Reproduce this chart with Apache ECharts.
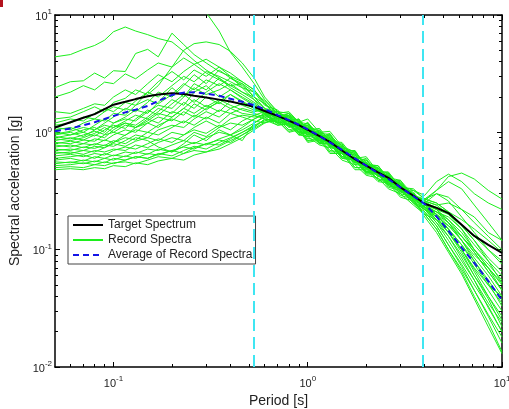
<!DOCTYPE html>
<html><head><meta charset="utf-8">
<script src="https://cdn.jsdelivr.net/npm/echarts@6/dist/echarts.min.js"></script>
<style>html,body{margin:0;padding:0;background:#fff}#c{width:509px;height:409px}</style>
</head><body><div id="c"></div>
<script>
const periods = [0.05,0.06,0.07,0.08,0.09,0.1, 0.115,0.13,0.15,0.17,0.2,0.23,0.26, 0.3,0.35,0.4,0.46,0.53, 0.6,0.7,0.8,0.9,1.0, 1.15,1.3,1.5,1.75,2.0, 2.3,2.6,3.0,3.5,4.0, 4.6,5.3,6.2,7.2,8.5,10];
const targetSpectrum = [1.10,1.22,1.33,1.43,1.58,1.72, 1.82,1.92,2.03,2.10,2.15,2.12,2.05, 1.98,1.90,1.83,1.74,1.65, 1.52,1.38,1.26,1.15,1.05, 0.93,0.83,0.70,0.59,0.52, 0.456,0.41,0.34,0.288,0.246, 0.227,0.205,0.163,0.131,0.11,0.094];
const averageSpectrum = [1.02,1.08,1.15,1.22,1.30,1.38, 1.48,1.56,1.68,1.85,2.08,2.18,2.20, 2.14,2.05,1.93,1.82,1.70, 1.58,1.40,1.27,1.16,1.06, 0.93,0.82,0.71,0.60,0.52, 0.45,0.40,0.34,0.285,0.245, 0.192,0.145,0.104,0.077,0.054,0.037];
const rec01 = [4.4,4.6,5.1,5.5,6.1,7.2, 7.9,7.3,6.8,6.3,5.9,4.9,4.1, 3.4,2.9,2.5,2.2,2.0, 1.75,1.45,1.5,1.22,1.3, 1.0,1.02,0.76,0.68,0.53, 0.52,0.4,0.37,0.29,0.26, 0.24,0.25,0.22,0.19,0.14,0.12];
const rec02 = [2.4,2.7,2.75,3.2,2.9,3.35, 3.3,4.7,5.1,4.4,7.0,5.6,4.6, 3.9,3.3,3.0,2.7,2.3, 1.8,1.3,1.45,1.05,1.2, 0.85,0.95,0.68,0.7,0.5, 0.5,0.38,0.39,0.27,0.26, 0.32,0.42,0.45,0.4,0.32,0.27];
const rec03 = [2.0,2.2,2.5,2.3,2.68,2.6, 3.15,2.86,3.4,3.9,3.6,4.3,3.8, 3.2,2.8,2.5,2.6,2.2, 1.7,1.55,1.2,1.3,0.95, 1.05,0.78,0.8,0.56,0.6, 0.42,0.45,0.31,0.32,0.29, 0.38,0.44,0.38,0.3,0.25,0.22];
const rec04 = [1.5,1.45,1.6,1.75,1.7,2.0, 2.3,2.1,2.6,3.1,2.7,3.3,3.8, 4.2,3.6,3.0,2.4,1.9, 1.6,1.25,1.4,1.0,1.15, 0.82,0.9,0.62,0.66,0.46, 0.5,0.36,0.37,0.26,0.24, 0.2,0.16,0.12,0.09,0.07,0.052];
const rec05 = [1.3,1.35,1.5,1.65,1.5,1.8, 1.95,2.3,2.1,2.5,3.6,5.0,5.7, 5.9,5.6,4.9,3.9,2.9, 2.0,1.5,1.3,1.28,0.98, 1.02,0.75,0.74,0.55,0.55, 0.43,0.43,0.32,0.3,0.25, 0.22,0.18,0.14,0.1,0.075,0.055];
const rec06 = [1.2,1.3,1.25,1.45,1.6,1.5, 1.8,1.7,2.2,2.7,3.3,2.8,3.4, 3.0,3.6,3.2,2.7,2.3, 1.75,1.35,1.45,1.12,1.2, 0.9,0.95,0.66,0.68,0.5, 0.48,0.39,0.37,0.28,0.27, 0.25,0.21,0.16,0.12,0.085,0.065];
const rec07 = [1.1,1.05,1.2,1.3,1.25,1.45, 1.4,1.7,1.9,1.75,2.1,2.6,2.3, 2.8,2.5,2.9,2.6,2.0, 1.6,1.3,1.18,1.2,0.92, 0.95,0.76,0.72,0.55,0.54, 0.44,0.42,0.32,0.3,0.23, 0.2,0.15,0.11,0.075,0.05,0.035];
const rec08 = [1.05,1.1,1.0,1.15,1.3,1.2, 1.35,1.55,1.45,1.8,2.4,2.0,2.6, 2.3,2.9,2.4,2.1,1.8, 1.55,1.45,1.35,1.05,1.12, 0.86,0.9,0.65,0.64,0.49, 0.48,0.38,0.36,0.27,0.26, 0.24,0.2,0.15,0.1,0.07,0.045];
const rec09 = [1.0,0.95,1.05,1.1,1.0,1.2, 1.3,1.25,1.5,1.7,1.6,2.0,2.4, 2.1,2.3,2.6,2.2,1.9, 1.45,1.5,1.22,1.25,1.0, 0.98,0.8,0.76,0.57,0.56, 0.44,0.43,0.33,0.3,0.24, 0.19,0.14,0.1,0.07,0.05,0.04];
const rec10 = [0.95,1.0,0.92,1.05,1.15,1.1, 1.25,1.4,1.3,1.5,1.9,1.7,2.2, 2.5,2.0,2.3,2.0,1.75, 1.5,1.22,1.3,1.0,1.08, 0.84,0.86,0.62,0.61,0.46, 0.47,0.37,0.35,0.27,0.23, 0.21,0.18,0.13,0.095,0.065,0.045];
const rec11 = [0.92,0.88,0.95,1.02,0.96,1.1, 1.2,1.15,1.35,1.6,1.45,1.8,1.6, 2.0,1.75,2.1,1.85,1.6, 1.42,1.4,1.15,1.18,0.95, 0.96,0.77,0.73,0.55,0.55, 0.43,0.42,0.32,0.29,0.26, 0.22,0.17,0.12,0.085,0.06,0.04];
const rec12 = [0.9,0.95,1.0,0.93,1.05,1.15, 1.08,1.3,1.55,1.4,1.75,2.1,1.8, 2.2,2.6,2.3,1.95,1.7, 1.5,1.3,1.35,1.1,1.15, 0.88,0.9,0.66,0.64,0.48, 0.46,0.39,0.35,0.27,0.25, 0.3,0.26,0.19,0.14,0.1,0.075];
const rec13 = [0.88,0.85,0.9,0.98,1.1,1.0, 1.15,1.1,1.25,1.45,1.35,1.6,1.9, 1.65,1.9,1.7,1.55,1.45, 1.35,1.35,1.1,1.15,0.88, 0.93,0.74,0.7,0.53,0.52, 0.42,0.4,0.31,0.28,0.22, 0.17,0.12,0.08,0.055,0.035,0.024];
const rec14 = [0.85,0.9,0.86,0.95,0.9,1.05, 1.2,1.1,1.3,1.2,1.5,1.4,1.75, 1.55,1.85,2.1,1.8,1.6, 1.45,1.2,1.28,1.05,1.1, 0.85,0.85,0.66,0.6,0.49, 0.47,0.37,0.35,0.27,0.25, 0.2,0.15,0.1,0.065,0.04,0.027];
const rec15 = [0.82,0.8,0.86,0.84,0.95,1.0, 0.94,1.1,1.2,1.1,1.35,1.6,1.45, 1.7,1.5,1.85,1.7,1.55, 1.5,1.5,1.25,1.3,1.05, 1.08,0.84,0.82,0.6,0.62, 0.46,0.46,0.34,0.33,0.27, 0.25,0.21,0.16,0.12,0.08,0.052];
const rec16 = [0.8,0.84,0.8,0.88,0.85,0.95, 1.05,1.0,1.2,1.35,1.25,1.5,1.35, 1.6,1.8,1.6,1.75,1.65, 1.45,1.2,1.2,0.98,1.0, 0.8,0.8,0.6,0.58,0.44, 0.44,0.34,0.32,0.25,0.22, 0.18,0.14,0.095,0.06,0.038,0.022];
const rec17 = [0.78,0.75,0.8,0.78,0.86,0.82, 0.95,1.05,1.0,1.15,1.3,1.2,1.4, 1.3,1.55,1.45,1.35,1.25, 1.2,1.3,1.05,1.1,0.85, 0.9,0.7,0.68,0.5,0.5, 0.4,0.39,0.3,0.28,0.24, 0.21,0.17,0.12,0.08,0.052,0.033];
const rec18 = [0.75,0.78,0.74,0.8,0.77,0.85, 0.8,0.9,0.85,0.75,0.68,0.8,0.95, 0.85,1.05,0.95,0.85,1.2, 1.35,1.15,1.2,0.95,1.02, 0.8,0.82,0.6,0.6,0.45, 0.46,0.35,0.33,0.25,0.21, 0.16,0.11,0.075,0.05,0.033,0.02];
const rec19 = [0.72,0.7,0.75,0.73,0.78,0.76, 0.85,0.95,0.9,1.05,1.15,1.1,1.3, 1.5,1.35,1.6,1.45,1.4, 1.3,1.25,1.0,1.05,0.82, 0.86,0.66,0.66,0.48,0.48, 0.38,0.37,0.28,0.26,0.2, 0.18,0.15,0.11,0.08,0.055,0.037];
const rec20 = [0.7,0.72,0.7,0.76,0.74,0.82, 0.9,0.86,1.0,0.95,1.1,1.25,1.15, 1.35,1.2,1.45,1.6,1.5, 1.55,1.4,1.35,1.12,1.15, 0.95,0.92,0.72,0.66,0.53, 0.49,0.42,0.36,0.3,0.24, 0.22,0.2,0.16,0.13,0.1,0.08];
const rec21 = [0.68,0.66,0.7,0.68,0.74,0.8, 0.76,0.84,0.9,0.85,1.0,0.95,1.1, 1.25,1.1,1.3,1.4,1.35, 1.4,1.2,1.25,0.98,1.05, 0.82,0.86,0.6,0.62,0.46, 0.47,0.36,0.35,0.26,0.22, 0.17,0.13,0.09,0.06,0.04,0.025];
const rec22 = [0.66,0.68,0.65,0.7,0.68,0.72, 0.7,0.78,0.74,0.82,0.9,0.85,1.0, 0.92,1.1,1.2,1.15,1.3, 1.45,1.4,1.12,1.2,0.92, 0.97,0.75,0.74,0.53,0.56, 0.42,0.43,0.31,0.3,0.23, 0.19,0.14,0.1,0.068,0.045,0.03];
const rec23 = [0.63,0.65,0.62,0.66,0.64,0.7, 0.75,0.72,0.8,0.88,0.82,0.95,1.05, 0.98,1.15,1.05,1.25,1.4, 1.5,1.3,1.4,1.08,1.22, 0.9,0.98,0.68,0.7,0.5, 0.52,0.39,0.38,0.28,0.25, 0.23,0.21,0.18,0.15,0.12,0.095];
const rec24 = [0.6,0.62,0.64,0.6,0.66,0.63, 0.68,0.66,0.72,0.7,0.78,0.85,0.8, 0.9,1.0,0.95,1.1,1.3, 1.42,1.18,1.15,0.95,0.92, 0.78,0.74,0.58,0.53,0.43, 0.41,0.33,0.3,0.24,0.2, 0.15,0.1,0.068,0.045,0.028,0.018];
const rec25 = [0.58,0.6,0.57,0.62,0.6,0.64, 0.62,0.68,0.65,0.72,0.68,0.76,0.82, 0.78,0.88,0.95,1.05,1.2, 1.38,1.4,1.15,1.2,0.95, 1.0,0.76,0.76,0.55,0.58, 0.43,0.44,0.32,0.31,0.23, 0.18,0.13,0.085,0.055,0.032,0.02];
const rec26 = [0.56,0.55,0.58,0.56,0.6,0.58, 0.63,0.6,0.66,0.64,0.7,0.75,0.72, 0.8,0.86,0.82,0.95,1.1, 1.3,1.22,1.18,1.0,1.0, 0.82,0.8,0.62,0.57,0.46, 0.44,0.36,0.33,0.26,0.22, 0.2,0.17,0.13,0.095,0.065,0.045];
const rec27 = [0.54,0.56,0.54,0.57,0.55,0.6, 0.58,0.62,0.6,0.66,0.63,0.7,0.76, 0.72,0.82,0.9,1.0,1.15, 1.25,1.35,1.12,1.15,0.95, 0.94,0.78,0.72,0.56,0.54, 0.43,0.41,0.32,0.29,0.21, 0.16,0.11,0.072,0.045,0.027,0.016];
const rec28 = [0.52,0.53,0.55,0.53,0.56,0.54, 0.58,0.62,0.6,0.65,0.7,0.66,0.74, 0.8,0.78,0.88,1.0,1.12, 1.28,1.15,1.18,0.95,1.0, 0.8,0.8,0.6,0.58,0.45, 0.45,0.35,0.33,0.25,0.2, 0.15,0.1,0.065,0.04,0.024,0.0135];
const rec29 = [0.5,0.51,0.5,0.53,0.52,0.55, 0.56,0.54,0.58,0.62,0.6,0.66,0.7, 0.68,0.76,0.85,0.95,1.08, 1.22,1.25,1.02,1.08,0.84, 0.88,0.68,0.68,0.5,0.5, 0.39,0.38,0.29,0.27,0.19, 0.14,0.095,0.062,0.038,0.022,0.013];
const rec30 = [0.48,0.49,0.48,0.5,0.49,0.52, 0.51,0.55,0.53,0.57,0.6,0.58,0.64, 0.68,0.72,0.8,0.9,1.05, 1.2,1.35,1.25,1.15,1.08, 0.96,0.88,0.72,0.64,0.54, 0.5,0.41,0.36,0.29,0.23, 0.21,0.19,0.15,0.11,0.08,0.06];
const rec31 = [18,18,17,17,16,16, 15,15,14,14,14,13,12.5, 10.5,7.3,4.8,3.6,2.6, 1.9,1.5,1.45,1.22,1.18, 0.98,0.96,0.74,0.68,0.53, 0.52,0.41,0.39,0.29,0.27, 0.32,0.38,0.33,0.24,0.17,0.12];
const rec32 = [1.15,1.2,1.35,1.3,1.5,1.65, 1.55,1.85,2.2,2.0,2.5,3.0,2.7, 3.3,3.0,2.7,2.4,2.2, 1.85,1.45,1.38,1.25,1.08, 1.04,0.86,0.78,0.61,0.58, 0.47,0.45,0.35,0.32,0.27, 0.3,0.28,0.22,0.17,0.13,0.1];
const rec33 = [0.97,1.02,1.1,1.05,1.2,1.35, 1.6,1.5,1.8,2.2,2.0,2.5,3.1, 2.6,3.4,2.9,2.5,2.0, 1.6,1.5,1.2,1.22,0.96, 0.98,0.78,0.74,0.56,0.55, 0.43,0.42,0.32,0.3,0.22, 0.19,0.16,0.13,0.1,0.07,0.05];
const recordSpectra = [rec01,rec02,rec03,rec04,rec05,rec06,rec07,rec08,rec09,rec10,rec11,rec12,rec13,rec14,rec15,rec16,rec17,rec18,rec19,rec20,rec21,rec22,rec23,rec24,rec25,rec26,rec27,rec28,rec29,rec30,rec31,rec32,rec33];

const xMajorTicks = [0.1, 1, 10];
const xMinorTicks = [0.06,0.07,0.08,0.09, 0.2,0.3,0.4,0.5,0.6,0.7,0.8,0.9, 2,3,4,5,6,7,8,9];
const yMajorTicks = [0.01, 0.1, 1, 10];
const yMinorTicks = [0.02,0.03,0.04,0.05,0.06,0.07,0.08,0.09, 0.2,0.3,0.4,0.5,0.6,0.7,0.8,0.9, 2,3,4,5,6,7,8,9];
const periodMarkers = [0.525, 3.93];
const legendNames = ['Target Spectrum', 'Record Spectra', 'Average of Record Spectra'];

const FONT = 'Liberation Sans, Arial, Helvetica, sans-serif';
const pairs = arr => periods.map((p, i) => [p, arr[i]]);
const powLabel = v => '{b|10}{s|' + Math.round(Math.log10(v)) + '}';
const richSup = {
  b: { fontSize: 11, fontFamily: FONT, color: '#222', lineHeight: 14, verticalAlign: 'bottom' },
  s: { fontSize: 8, fontFamily: FONT, color: '#222', lineHeight: 8, verticalAlign: 'top' }
};

function makeAxis(kind, position, ticks, len, opts) {
  const isX = kind === 'x';
  return Object.assign({
    type: 'log', logBase: 10, position: position,
    min: isX ? 0.05 : 0.01, max: 10,
    axisLine: { show: true, onZero: false, lineStyle: { color: '#000', width: 1.5 } },
    axisTick: { show: true, inside: true, length: len, customValues: ticks, lineStyle: { color: '#000', width: 1 } },
    axisLabel: { show: false },
    splitLine: { show: false },
    minorTick: { show: false },
    minorSplitLine: { show: false }
  }, opts || {});
}

const series = recordSpectra.map(r => ({
  type: 'line', name: 'Record Spectra', data: pairs(r),
  symbol: 'none', showSymbol: false, silent: true, z: 2,
  lineStyle: { color: '#1cee1c', width: 1 }, itemStyle: { color: '#1cee1c', opacity: 0 }
}));
series.push({
  type: 'line', name: 'Target Spectrum', data: pairs(targetSpectrum),
  symbol: 'none', showSymbol: false, z: 4,
  lineStyle: { color: '#000', width: 2 }, itemStyle: { color: '#000', opacity: 0 },
  markLine: {
    silent: true, symbol: ['none', 'none'], label: { show: false },
    lineStyle: { color: '#3fe6f2', width: 2, type: [12, 6], opacity: 1 },
    data: periodMarkers.map(v => ({ xAxis: v }))
  }
});
series.push({
  type: 'line', name: 'Average of Record Spectra', data: pairs(averageSpectrum),
  symbol: 'none', showSymbol: false, z: 5,
  lineStyle: { color: '#1414e6', width: 2, type: [6, 4] }, itemStyle: { color: '#1414e6', opacity: 0 }
});

const chart = echarts.init(document.getElementById('c'), null, { renderer: 'canvas' });
chart.setOption({
  animation: false,
  backgroundColor: '#fff',
  textStyle: { fontFamily: FONT },
  grid: { left: 55, right: 7, top: 15, bottom: 42, containLabel: false, outerBoundsMode: 'none' },
  legend: {
    data: legendNames, orient: 'vertical', left: 68, top: 216,
    itemWidth: 30, itemHeight: 14, itemGap: 1, padding: [2, 3, 2, 4],
    backgroundColor: '#fff', borderColor: '#444', borderWidth: 1, borderRadius: 0,
    selectedMode: false,
    itemStyle: { opacity: 0 },
    textStyle: { fontSize: 12, color: '#222', fontFamily: FONT, lineHeight: 14 }
  },
  xAxis: [
    makeAxis('x', 'bottom', xMajorTicks, 5, {
      axisLabel: { show: true, customValues: xMajorTicks, formatter: powLabel, rich: richSup, margin: 8 },
      name: 'Period [s]', nameLocation: 'middle', nameGap: 18,
      nameTextStyle: { fontSize: 14, color: '#222', fontFamily: FONT }
    }),
    makeAxis('x', 'top', xMajorTicks, 5),
    makeAxis('x', 'bottom', xMinorTicks, 3, { axisLine: { show: false } }),
    makeAxis('x', 'top', xMinorTicks, 3, { axisLine: { show: false } })
  ],
  yAxis: [
    makeAxis('y', 'left', yMajorTicks, 5, {
      axisLabel: { show: true, customValues: yMajorTicks, formatter: powLabel, rich: richSup, margin: 3 },
      name: 'Spectral acceleration [g]', nameLocation: 'middle', nameGap: 30,
      nameTextStyle: { fontSize: 14, color: '#222', fontFamily: FONT }
    }),
    makeAxis('y', 'right', yMajorTicks, 5),
    makeAxis('y', 'left', yMinorTicks, 3, { axisLine: { show: false } }),
    makeAxis('y', 'right', yMinorTicks, 3, { axisLine: { show: false } })
  ],
  graphic: [{ type: 'rect', left: 0, top: 0, shape: { width: 3, height: 7 }, style: { fill: '#b3121e' }, z: 10 }],
  series: series
});
</script>
</body></html>
